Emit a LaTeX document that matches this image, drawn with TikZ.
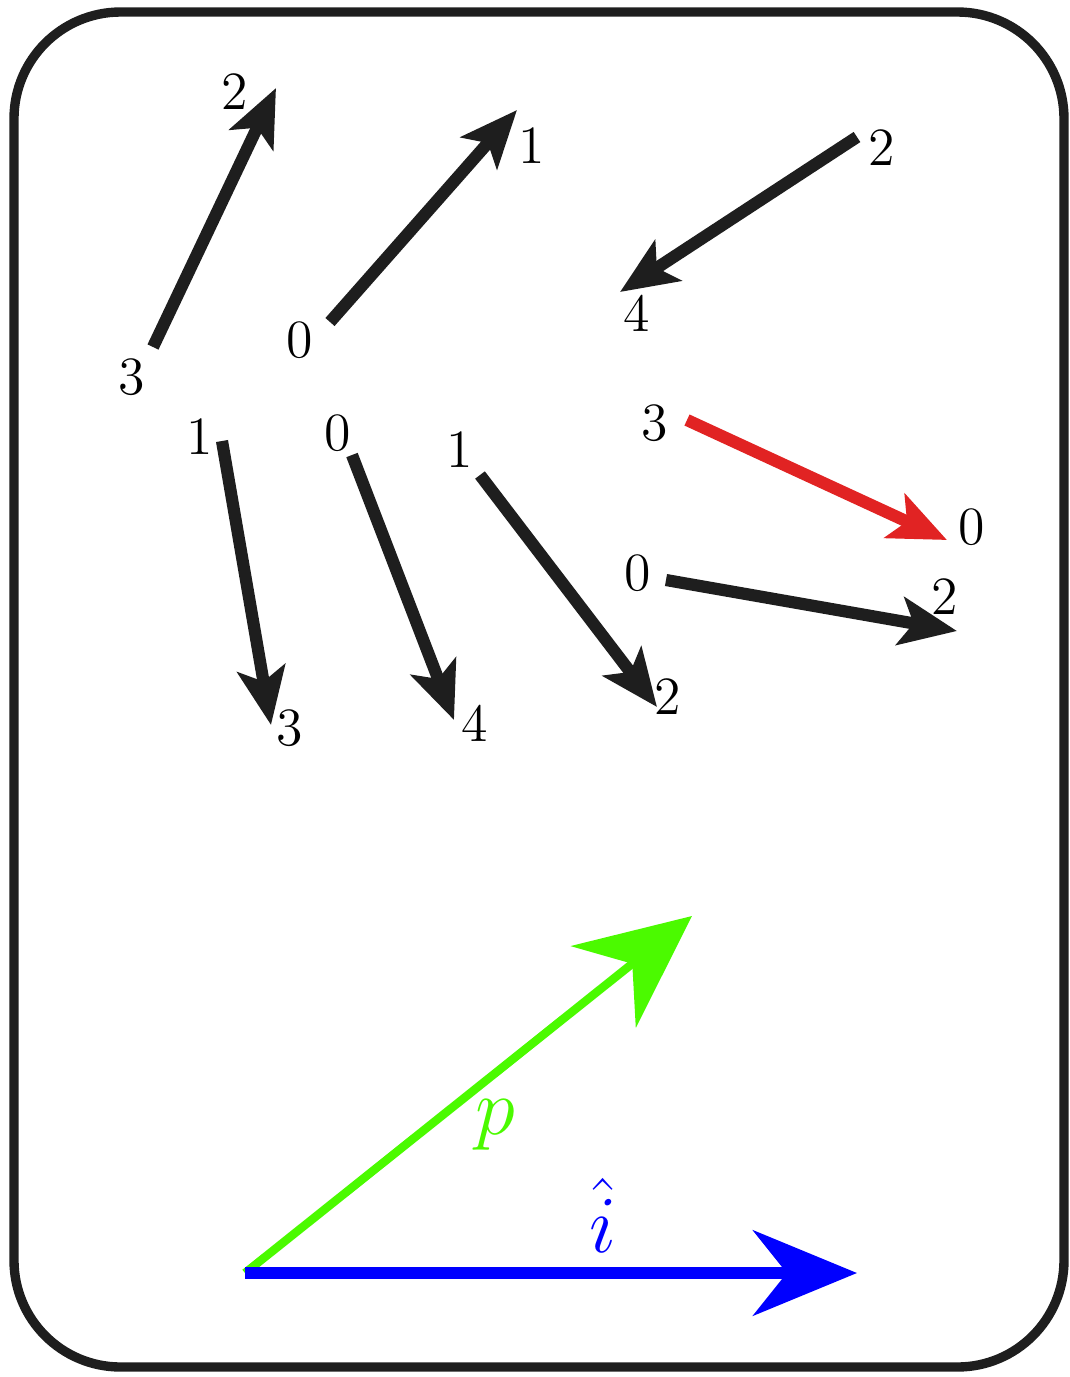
\documentclass[tikz,border=0pt]{standalone}
\usetikzlibrary{arrows.meta}
\definecolor{noir}{RGB}{30,30,30}
\definecolor{rouge}{RGB}{225,35,35}
\definecolor{vert}{RGB}{75,250,0}
\begin{document}
\begin{tikzpicture}[
    x=0.0075cm, y=-0.0075cm,
    % Réglages des flèches et des étiquettes
    fleche/.style={line width=2.6pt, noir, -{Stealth[length=0.43cm, width=0.36cm, inset=0.1cm]}},
    etiq/.style={inner sep=0pt, font=\fontsize{11.5}{14}\selectfont},
    grand/.style={inner sep=0pt, font=\fontsize{17}{20}\selectfont}
]
\useasboundingbox (0,0) rectangle (1069,1377);
% Cadre
\draw[line width=2pt, noir, rounded corners=0.8cm] (14,12) rectangle (1064,1367);

% Extrémités des flèches
\coordinate (a1) at (153,347);  \coordinate (b1) at (276,88);
\coordinate (a2) at (330,322);  \coordinate (b2) at (517,110);
\coordinate (a3) at (857,137);  \coordinate (b3) at (620,292);
\coordinate (a4) at (222,441);  \coordinate (b4) at (271,725);
\coordinate (a5) at (352,455);  \coordinate (b5) at (454,720);
\coordinate (a6) at (480,475);  \coordinate (b6) at (657,707);
\coordinate (a7) at (687,420);  \coordinate (b7) at (947,540);
\coordinate (a8) at (666,580);  \coordinate (b8) at (957,631);

% Étiquettes
\node[etiq] (d1) at (132,377) {3};  \node[etiq] (f1) at (235,92)  {2};
\node[etiq] (d2) at (300,340) {0};  \node[etiq] (f2) at (532,146) {1};
\node[etiq] (d3) at (882,148) {2};  \node[etiq] (f3) at (637,313) {4};
\node[etiq] (d4) at (200,437) {1};  \node[etiq] (f4) at (290,728) {3};
\node[etiq] (d5) at (338,433) {0};  \node[etiq] (f5) at (475,723) {4};
\node[etiq] (d6) at (460,450) {1};  \node[etiq] (f6) at (668,697) {2};
\node[etiq] (d7) at (655,423) {3};  \node[etiq] (f7) at (972,527) {0};
\node[etiq] (d8) at (638,573) {0};  \node[etiq] (f8) at (945,597) {2};

% Flèches
\foreach \i in {1,...,6,8}
    \draw[fleche] (a\i) -- (b\i);
\draw[fleche, rouge] (a7) -- (b7);

% Vecteurs p et i
\coordinate (o) at (245,1273);
\coordinate (pbout) at (692,916);
\coordinate (ibout) at (857,1273);
\draw[line width=1.8pt, vert, -{Stealth[length=0.85cm, width=0.78cm]}] (o) -- (pbout);
\draw[line width=2.4pt, blue, -{Stealth[length=0.78cm, width=0.64cm]}] (o) -- (ibout);
\node[grand, vert] (p) at (495,1125) {$p$};
\node[grand, blue] (ihat) at (603,1215) {$\hat{i}$};
\end{tikzpicture}
\end{document}
